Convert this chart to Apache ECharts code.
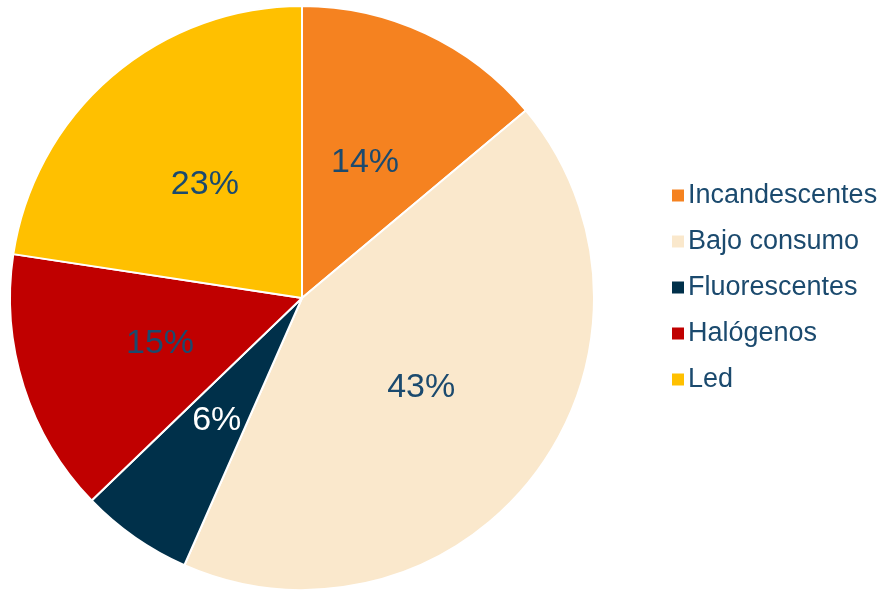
<!DOCTYPE html>
<html>
<head>
<meta charset="utf-8">
<script src="https://cdn.jsdelivr.net/npm/echarts@6/dist/echarts.min.js"></script>
<style>
  html, body { margin: 0; padding: 0; background: #fff; }
  #chart { width: 882px; height: 592px; }
</style>
</head>
<body>
<div id="chart"></div>
<script>
const categories = ['Incandescentes', 'Bajo consumo', 'Fluorescentes', 'Halógenos', 'Led'];
const shares = [13.9, 42.7, 6.2, 14.6, 22.6];
const colors = ['#F58220', '#FAE8CC', '#00304A', '#C00000', '#FFC000'];
const labelColors = ['#1b4a6e', '#1b4a6e', '#ffffff', '#1b4a6e', '#1b4a6e'];

const myChart = echarts.init(document.getElementById('chart'));

const option = {
  animation: false,
  color: colors,
  legend: {
    orient: 'vertical',
    left: 665,
    top: 177,
    itemWidth: 14,
    itemHeight: 14,
    itemGap: 19,
    icon: 'rect',
    textStyle: {
      fontFamily: 'Liberation Sans',
      fontSize: 27,
      lineHeight: 27,
      color: '#1b4a6e',
      padding: [0, 0, 0, -2]
    },
    data: categories
  },
  series: [
    {
      type: 'pie',
      center: [302, 298],
      radius: 292,
      startAngle: 90,
      clockwise: true,
      itemStyle: { borderColor: '#ffffff', borderWidth: 2 },
      label: {
        position: 'inside',
        fontFamily: 'Liberation Sans',
        fontSize: 34,
        formatter: function (p) { return Math.round(p.value) + '%'; }
      },
      labelLine: { show: false },
      emphasis: { disabled: true },
      data: categories.map(function (name, i) {
        return { name: name, value: shares[i], label: { color: labelColors[i] } };
      })
    }
  ]
};

option && myChart.setOption(option);
</script>
</body>
</html>
